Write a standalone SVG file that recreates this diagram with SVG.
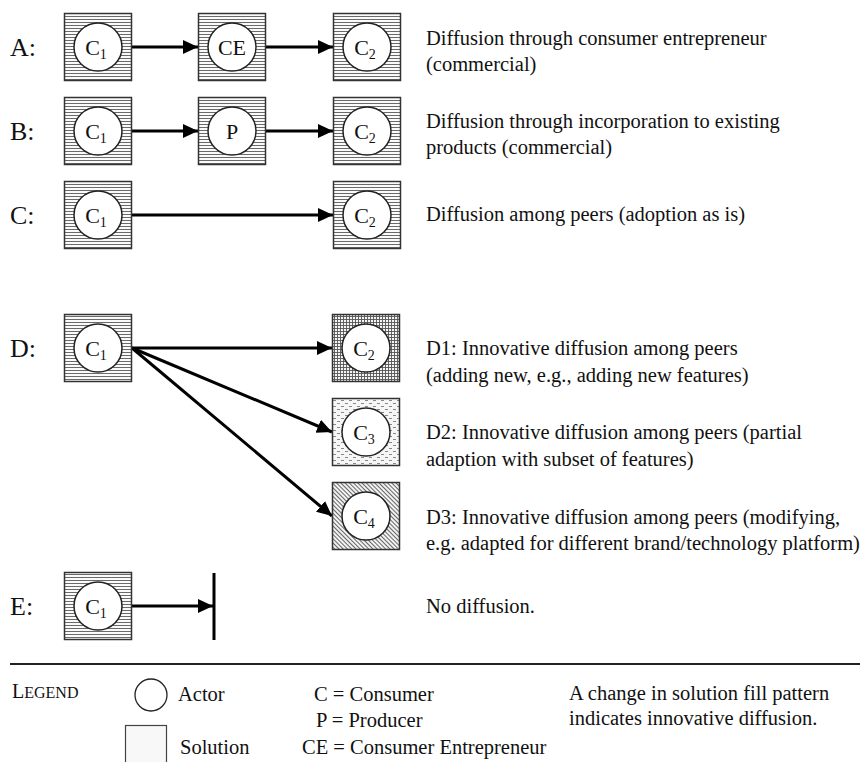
<svg xmlns="http://www.w3.org/2000/svg" width="862" height="762" viewBox="0 0 862 762">
  <defs>
    <!-- solution fill patterns -->
    <pattern id="pat-h" width="4" height="3" patternUnits="userSpaceOnUse">
      <rect width="4" height="3" fill="#fafafa"/>
      <line x1="0" y1="1.5" x2="4" y2="1.5" stroke="#5a5a5a" stroke-width="0.9"/>
    </pattern>
    <pattern id="pat-grid" width="3" height="3" patternUnits="userSpaceOnUse">
      <rect width="3" height="3" fill="#f4f4f4"/>
      <line x1="0" y1="1.5" x2="3" y2="1.5" stroke="#555" stroke-width="0.9"/>
      <line x1="1.5" y1="0" x2="1.5" y2="3" stroke="#555" stroke-width="0.9"/>
    </pattern>
    <pattern id="pat-dash" width="8" height="6" patternUnits="userSpaceOnUse">
      <rect width="8" height="6" fill="#f6f6f6"/>
      <line x1="1" y1="1.5" x2="4" y2="1.5" stroke="#888" stroke-width="1"/>
      <line x1="5" y1="4.5" x2="8" y2="4.5" stroke="#888" stroke-width="1"/>
    </pattern>
    <pattern id="pat-diag" width="3" height="3" patternUnits="userSpaceOnUse" patternTransform="rotate(45)">
      <rect width="3" height="3" fill="#f2f2f2"/>
      <line x1="0" y1="1.5" x2="3" y2="1.5" stroke="#666" stroke-width="1"/>
    </pattern>
    <marker id="head" markerUnits="userSpaceOnUse" markerWidth="16" markerHeight="16" refX="15" refY="8" orient="auto">
      <path d="M0,1 L15,8 L0,15 Z" fill="#000"/>
    </marker>
  </defs>
  <style>
    text { font-family: "Liberation Serif", "Times New Roman", serif; fill: #111; }
    .row { font-size: 26px; }
    .desc { font-size: 20.5px; }
    .actor { font-size: 22px; text-anchor: middle; }
    .sub { font-size: 14px; }
    .leg { font-size: 20.5px; }
    .box { stroke: #333; stroke-width: 1.5; }
    .circ { fill: #fff; stroke: #222; stroke-width: 1.5; }
    .conn { stroke: #000; stroke-width: 3; fill: none; marker-end: url(#head); }
  </style>
  <rect width="862" height="762" fill="#fff"/>

  <!-- row labels -->
  <g id="row-labels">
    <text class="row" x="10" y="56">A:</text>
    <text class="row" x="10" y="140">B:</text>
    <text class="row" x="10" y="224">C:</text>
    <text class="row" x="10" y="357">D:</text>
    <text class="row" x="10" y="615">E:</text>
  </g>

  <!-- connectors -->
  <g id="connectors">
    <line class="conn" x1="132" y1="47" x2="198" y2="47"/>
    <line class="conn" x1="265" y1="47" x2="333" y2="47"/>
    <line class="conn" x1="132" y1="131" x2="198" y2="131"/>
    <line class="conn" x1="265" y1="131" x2="333" y2="131"/>
    <line class="conn" x1="132" y1="215" x2="333" y2="215"/>
    <line class="conn" x1="132" y1="348" x2="332" y2="348"/>
    <line class="conn" x1="132" y1="348" x2="332" y2="432"/>
    <line class="conn" x1="132" y1="348" x2="332" y2="516"/>
    <line class="conn" x1="132" y1="606" x2="213" y2="606"/>
    <line x1="214" y1="573" x2="214" y2="640" stroke="#000" stroke-width="3"/>
  </g>

  <!-- row A -->
  <g id="a-c1">
    <rect class="box" x="64.5" y="13.5" width="67" height="67" fill="url(#pat-h)"/>
    <circle class="circ" cx="98" cy="47" r="24"/>
    <text class="actor" x="96" y="55">C<tspan class="sub" dy="4">1</tspan></text>
  </g>
  <g id="a-ce">
    <rect class="box" x="198.5" y="13.5" width="67" height="67" fill="url(#pat-h)"/>
    <circle class="circ" cx="232" cy="47" r="24"/>
    <text class="actor" x="232" y="55">CE</text>
  </g>
  <g id="a-c2">
    <rect class="box" x="333.5" y="13.5" width="67" height="67" fill="url(#pat-h)"/>
    <circle class="circ" cx="367" cy="47" r="24"/>
    <text class="actor" x="365" y="55">C<tspan class="sub" dy="4">2</tspan></text>
  </g>

  <!-- row B -->
  <g id="b-c1">
    <rect class="box" x="64.5" y="97.5" width="67" height="67" fill="url(#pat-h)"/>
    <circle class="circ" cx="98" cy="131" r="24"/>
    <text class="actor" x="96" y="139">C<tspan class="sub" dy="4">1</tspan></text>
  </g>
  <g id="b-p">
    <rect class="box" x="198.5" y="97.5" width="67" height="67" fill="url(#pat-h)"/>
    <circle class="circ" cx="232" cy="131" r="24"/>
    <text class="actor" x="232" y="139">P</text>
  </g>
  <g id="b-c2">
    <rect class="box" x="333.5" y="97.5" width="67" height="67" fill="url(#pat-h)"/>
    <circle class="circ" cx="367" cy="131" r="24"/>
    <text class="actor" x="365" y="139">C<tspan class="sub" dy="4">2</tspan></text>
  </g>

  <!-- row C -->
  <g id="c-c1">
    <rect class="box" x="64.5" y="181.5" width="67" height="67" fill="url(#pat-h)"/>
    <circle class="circ" cx="98" cy="215" r="24"/>
    <text class="actor" x="96" y="223">C<tspan class="sub" dy="4">1</tspan></text>
  </g>
  <g id="c-c2">
    <rect class="box" x="333.5" y="181.5" width="67" height="67" fill="url(#pat-h)"/>
    <circle class="circ" cx="367" cy="215" r="24"/>
    <text class="actor" x="365" y="223">C<tspan class="sub" dy="4">2</tspan></text>
  </g>

  <!-- row D -->
  <g id="d-c1">
    <rect class="box" x="64.5" y="314.5" width="67" height="67" fill="url(#pat-h)"/>
    <circle class="circ" cx="98" cy="348" r="24"/>
    <text class="actor" x="96" y="356">C<tspan class="sub" dy="4">1</tspan></text>
  </g>
  <g id="d-c2">
    <rect class="box" x="332.5" y="314.5" width="67" height="67" fill="url(#pat-grid)"/>
    <circle class="circ" cx="366" cy="348" r="24"/>
    <text class="actor" x="364" y="356">C<tspan class="sub" dy="4">2</tspan></text>
  </g>
  <g id="d-c3">
    <rect class="box" x="332.5" y="398.5" width="67" height="67" fill="url(#pat-dash)"/>
    <circle class="circ" cx="366" cy="432" r="24"/>
    <text class="actor" x="364" y="440">C<tspan class="sub" dy="4">3</tspan></text>
  </g>
  <g id="d-c4">
    <rect class="box" x="332.5" y="482.5" width="67" height="67" fill="url(#pat-diag)"/>
    <circle class="circ" cx="366" cy="516" r="24"/>
    <text class="actor" x="364" y="524">C<tspan class="sub" dy="4">4</tspan></text>
  </g>

  <!-- row E -->
  <g id="e-c1">
    <rect class="box" x="64.5" y="572.5" width="67" height="67" fill="url(#pat-h)"/>
    <circle class="circ" cx="98" cy="606" r="24"/>
    <text class="actor" x="96" y="614">C<tspan class="sub" dy="4">1</tspan></text>
  </g>

  <!-- descriptions -->
  <g id="descriptions">
    <text class="desc" x="426" y="45">Diffusion through consumer entrepreneur</text>
    <text class="desc" x="426" y="71">(commercial)</text>
    <text class="desc" x="426" y="128">Diffusion through incorporation to existing</text>
    <text class="desc" x="426" y="154">products (commercial)</text>
    <text class="desc" x="426" y="221">Diffusion among peers (adoption as is)</text>
    <text class="desc" x="426" y="355">D1: Innovative diffusion among peers</text>
    <text class="desc" x="426" y="382">(adding new, e.g., adding new features)</text>
    <text class="desc" x="426" y="439">D2: Innovative diffusion among peers (partial</text>
    <text class="desc" x="426" y="466">adaption with subset of features)</text>
    <text class="desc" x="426" y="524">D3: Innovative diffusion among peers (modifying,</text>
    <text class="desc" x="426" y="550">e.g. adapted for different brand/technology platform)</text>
    <text class="desc" x="426" y="613">No diffusion.</text>
  </g>

  <!-- legend -->
  <g id="legend">
    <line x1="10" y1="664" x2="860" y2="664" stroke="#222" stroke-width="2"/>
    <text x="12" y="698" style="font-size:20px">L<tspan style="font-size:16px">EGEND</tspan></text>
    <circle cx="151" cy="695" r="16" fill="#fff" stroke="#222" stroke-width="1.3"/>
    <text class="leg" x="178" y="701">Actor</text>
    <rect x="125.5" y="725.5" width="41" height="45" fill="#f8f8f8" stroke="#444" stroke-width="1.2"/>
    <text class="leg" x="180" y="754">Solution</text>
    <text class="leg" x="314" y="701">C = Consumer</text>
    <text class="leg" x="316" y="727">P = Producer</text>
    <text class="leg" x="302" y="754">CE = Consumer Entrepreneur</text>
    <text class="leg" x="569" y="700">A change in solution fill pattern</text>
    <text class="leg" x="569" y="725">indicates innovative diffusion.</text>
  </g>
</svg>
